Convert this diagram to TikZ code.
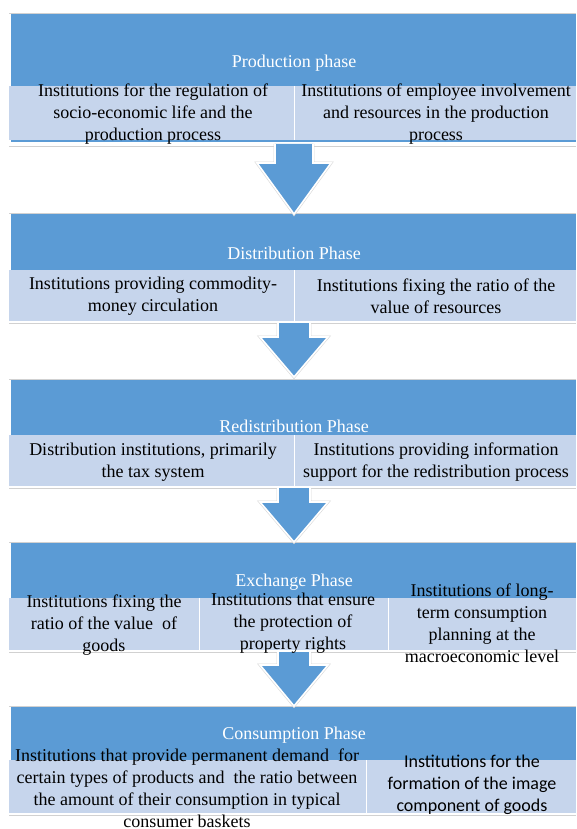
\documentclass[tikz,border=0pt]{standalone}
\usepackage{fontspec}
\setmainfont{Liberation Serif}
\newfontfamily\calibrifont{Carlito}
\definecolor{phaseblue}{RGB}{91,155,213}
\definecolor{phaselight}{RGB}{198,213,236}

\begin{document}
\begin{tikzpicture}[x=1pt,y=-1pt,
  phase/.style={fill=phaseblue},
  band/.style={fill=phaselight},
  sep/.style={draw=white,line width=0.8pt},
  edge/.style={draw=black!18,line width=0.8pt},
  arr/.style={fill=phaseblue,draw=white,line width=1.6pt,line join=miter,
    preaction={draw=black!15,line width=2.8pt}},
  title/.style={text=white,inner sep=0pt,font=\fontsize{18}{22}\selectfont},
  txt/.style={align=center,inner sep=0pt,font=\fontsize{18}{22}\selectfont}]
\useasboundingbox[fill=white] (0,0) rectangle (576,829);

%Построение блоков
\draw[edge] (9,13)--(576,13);
\fill[phase] (11,14) rectangle (576,142);
\fill[band] (9,86) rectangle (576,140);
\draw[sep] (294,86)--(294,140);
\draw[edge] (9,146)--(576,146);

\draw[edge] (9,213)--(576,213);
\fill[phase] (11,214) rectangle (576,270);
\fill[band] (9,270) rectangle (576,321);
\draw[sep] (294,270)--(294,321);
\draw[edge] (9,323)--(576,323);

\draw[edge] (9,379)--(576,379);
\fill[phase] (11,380) rectangle (576,435);
\fill[band] (9,435) rectangle (576,486);
\draw[sep] (294,435)--(294,486);
\draw[edge] (9,488)--(576,488);

\draw[edge] (9,542)--(576,542);
\fill[phase] (11,543) rectangle (576,598);
\fill[band] (9,598) rectangle (576,650);
\draw[sep] (199,598)--(199,650);
\draw[sep] (388,598)--(388,650);
\draw[edge] (9,652)--(576,652);

\draw[edge] (9,706)--(576,706);
\fill[phase] (11,707) rectangle (576,760);
\fill[band] (9,760) rectangle (576,813);
\draw[sep] (366,760)--(366,813);
\draw[edge] (9,815)--(576,815);

%Стрелки между фазами
\draw[arr] (275,144)--(275,163)--(257,163)--(294,214)--(331,163)--(313,163)--(313,144);
\draw[arr] (278,323)--(278,337)--(260,337)--(294,377)--(328,337)--(310,337)--(310,323);
\draw[arr] (278,488)--(278,502)--(260,502)--(294,542)--(328,502)--(310,502)--(310,488);
\draw[arr] (278,652)--(278,665)--(260,665)--(294,706)--(328,665)--(310,665)--(310,652);

%Заголовки фаз
\node[title] (production) at (294,63) {Production phase};
\node[title] (distribution) at (294,253) {Distribution Phase};
\node[title] (redistribution) at (294,426) {Redistribution Phase};
\node[title] (exchange) at (294,582) {Exchange Phase};
\node[title] (consumption) at (294,735) {Consumption Phase};

%Институты
\node[txt] (prodA) at (153,114) {Institutions for the regulation of\\socio-economic life and the\\production process};
\node[txt] (prodB) at (436,114) {Institutions of employee involvement\\and resources in the production\\process};
\node[txt] (distA) at (153,296) {Institutions providing commodity-\\money circulation};
\node[txt] (distB) at (436,296) {Institutions fixing the ratio of the\\value of resources};
\node[txt] (redistA) at (153,462) {Distribution institutions, primarily\\the tax system};
\node[txt] (redistB) at (436,462) {Institutions providing information\\support for the redistribution process};
\node[txt] (exchA) at (104,625) {Institutions fixing the\\ratio of the value \ of\\goods};
\node[txt] (exchB) at (293,623) {Institutions that ensure\\the protection of\\property rights};
\node[txt] (exchC) at (482,623) {Institutions of long-\\term consumption\\planning at the\\macroeconomic level};
\node[txt] (consA) at (187,788) {Institutions that provide permanent demand \ for\\certain types of products and \ the ratio between\\the amount of their consumption in typical\\consumer baskets};
\node[txt,font=\calibrifont\fontsize{18}{22}\selectfont] (consB) at (472,785) {Institutions for the\\formation of the image\\component of goods};

\end{tikzpicture}
\end{document}
